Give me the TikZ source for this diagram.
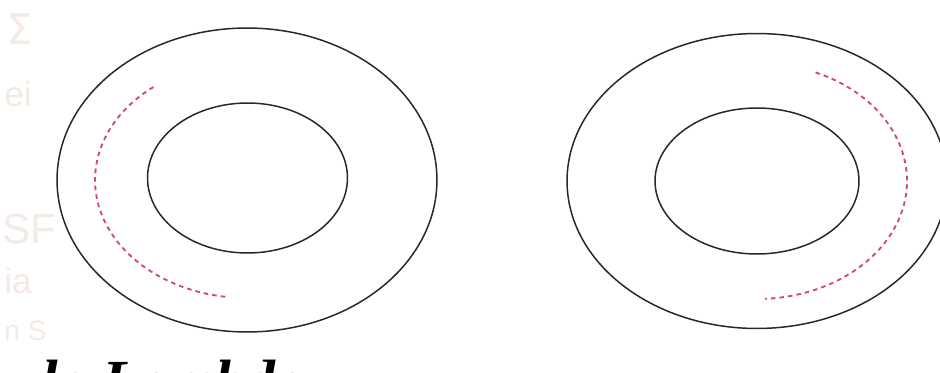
\documentclass[tikz,border=0pt]{standalone}
\usepackage{fontspec}
\setmainfont{Liberation Serif}
\newfontfamily\wmfont{Liberation Sans}
\newfontfamily\symfont{DejaVu Sans}
\definecolor{ringc}{RGB}{40,40,40}
\definecolor{dashc}{RGB}{212,72,112}
\definecolor{wmc}{RGB}{246,234,229}
\begin{document}
\begin{tikzpicture}[x=0.02cm,y=-0.02cm,
  ring/.style={draw=ringc, line width=0.85pt},
  flow/.style={draw=dashc, line width=1.05pt, dash pattern=on 2.6pt off 2.3pt},
  wmark/.style={text=wmc, anchor=base west, inner sep=0pt}]
\useasboundingbox (0,0) rectangle (940,372);
\fill[white] (0,0) rectangle (940,372);
% watermark remnants
\node[wmark, font=\symfont\fontsize{24}{24}\selectfont] (wm1) at (6,44) {Σ};
\node[wmark, font=\wmfont\fontsize{20}{20}\selectfont] (wm2) at (4,106) {ei};
\node[wmark, font=\wmfont\fontsize{24}{24}\selectfont] (wm3) at (2,243) {SF};
\node[wmark, font=\wmfont\fontsize{20}{20}\selectfont] (wm4) at (4,293) {ia};
\node[wmark, font=\wmfont\fontsize{16}{16}\selectfont] (wm5) at (4,340) {n S};
% centres
\coordinate (cL) at (247,180);
\coordinate (cLi) at (247.5,178);
\coordinate (cR) at (757,181);
% left ring
\draw[ring] (cL) ellipse [x radius=3.8cm, y radius=3.04cm];
\draw[ring] (cLi) ellipse [x radius=2.0cm, y radius=1.5cm];
\draw[flow] (cL) ++(128:3.04cm and 2.36cm)
  arc [start angle=128, end angle=262, x radius=3.04cm, y radius=2.36cm];
% right ring
\draw[ring] (cR) ellipse [x radius=3.8cm, y radius=2.95cm];
\draw[ring] (cR) ellipse [x radius=2.04cm, y radius=1.46cm];
\draw[flow] (cR) ++(67:3.0cm and 2.36cm)
  arc [start angle=67, end angle=-87, x radius=3.0cm, y radius=2.36cm];
% cut-off caption
\node[anchor=base west, inner sep=0pt, font=\bfseries\itshape\fontsize{34}{34}\selectfont] (caption) at (8,401) {ula Lambda};
\end{tikzpicture}
\end{document}
